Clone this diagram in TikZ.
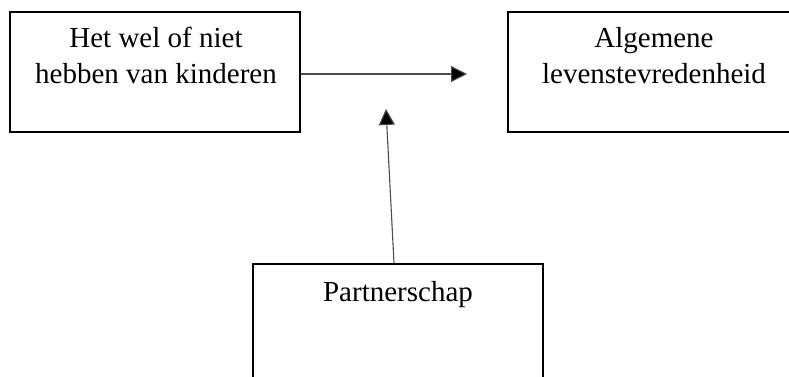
\documentclass[tikz,border=0pt]{standalone}
\usepackage{fontspec}
\setmainfont{Liberation Serif}
\usetikzlibrary{arrows.meta,calc}
\begin{document}
\begin{tikzpicture}[x=1pt,y=-1pt,
  box/.style={draw=black,line width=1.6pt,rectangle,inner sep=0pt,minimum width=290pt,minimum height=120pt},
  lbl/.style={align=center,inner sep=0pt,anchor=base,font=\fontsize{29}{36}\selectfont},
  conn/.style={draw=black!70,line width=1.1pt,-{Triangle[length=16pt,width=16pt,fill=black]}}]
\useasboundingbox (0,0) rectangle (789,376);
\clip (0,0) rectangle (789,376);
\fill[white] (0,0) rectangle (789,376);
\node[box] (lb) at (155,72) {};
\node[box,minimum width=292pt] (rb) at (654,72) {};
\node[box] (pb) at (398,324) {};
\node[lbl] (lt) at (156,83) {Het wel of niet\\hebben van kinderen};
\node[lbl] (rt) at (654,83) {Algemene\\levenstevredenheid};
\node[lbl] (pt) at (398,301) {Partnerschap};
\coordinate (hend) at (467,74);
\coordinate (vend) at (386,109);
\draw[conn] (lb.east |- hend) -- (hend);
\draw[conn] ([xshift=-4pt]pb.north) -- (vend);
\end{tikzpicture}
\end{document}
